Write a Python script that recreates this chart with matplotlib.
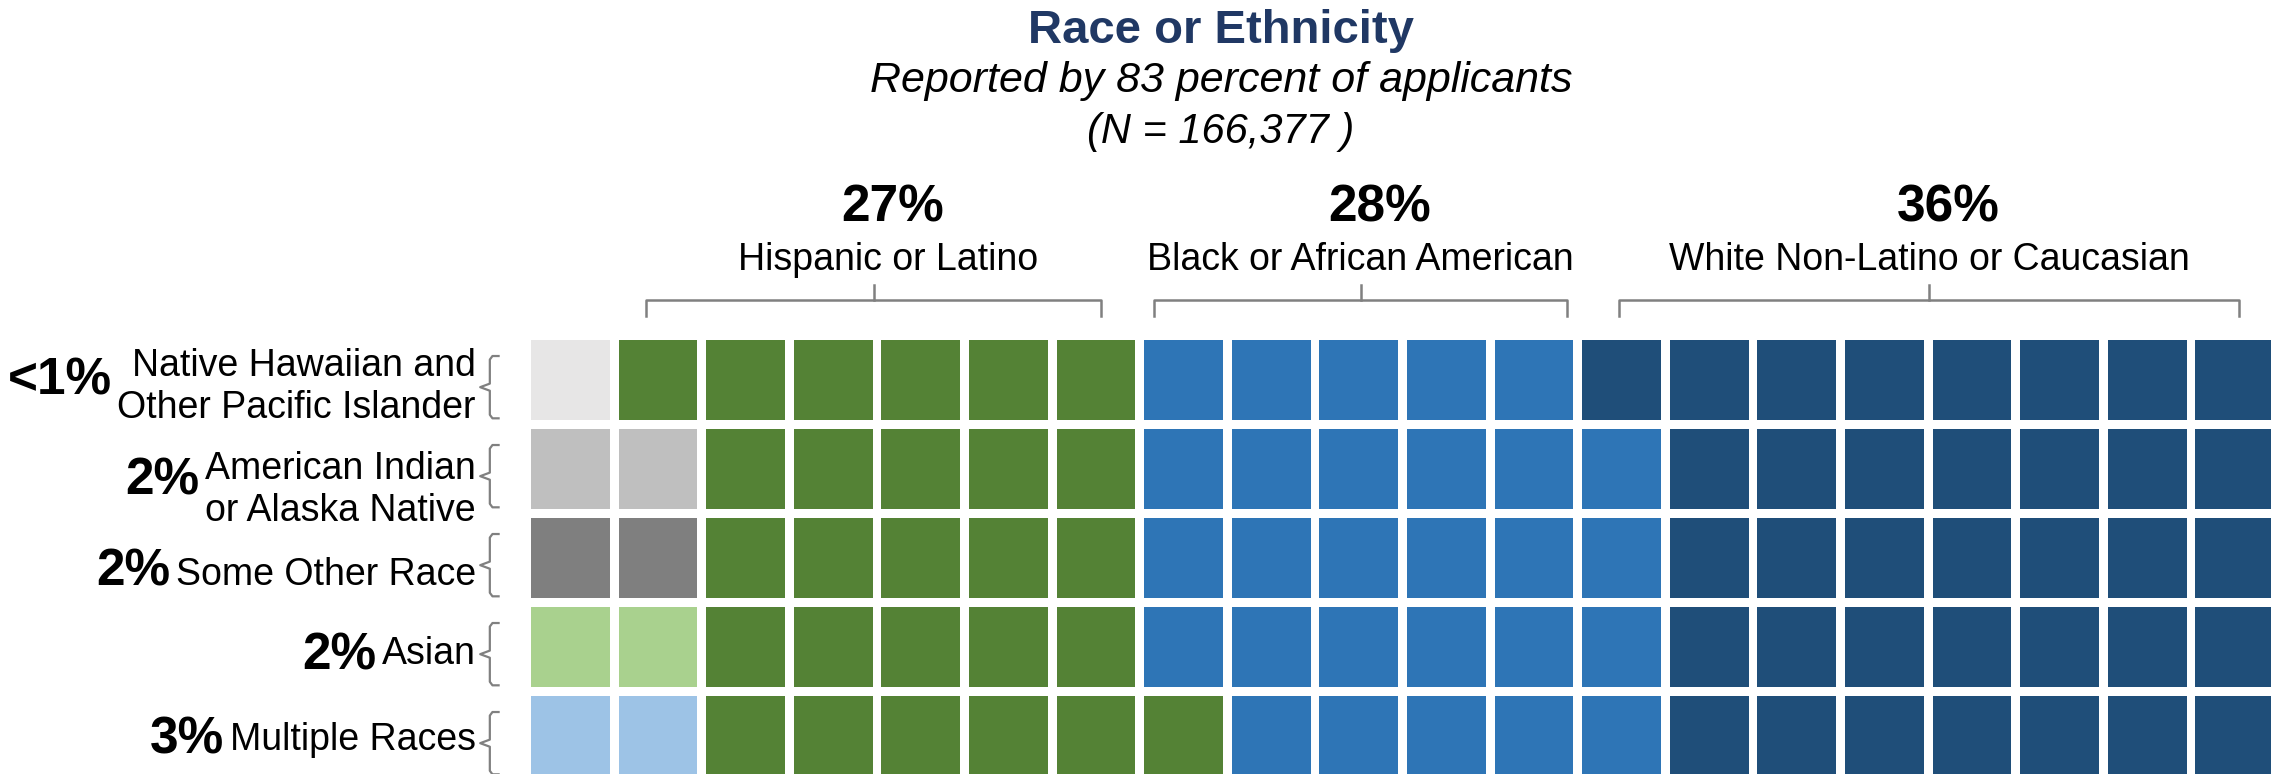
import matplotlib.pyplot as plt
from matplotlib.patches import Rectangle

plt.rcParams['font.family'] = ['Liberation Sans', 'DejaVu Sans']

# small groups, one per row (left side of the waffle)
row_labels = ['Native Hawaiian and\nOther Pacific Islander', 'American Indian\nor Alaska Native',
              'Some Other Race', 'Asian', 'Multiple Races']
row_pcts = ['<1%', '2%', '2%', '2%', '3%']
row_colors = ['#E7E6E6', '#BFBFBF', '#7F7F7F', '#A9D18E', '#9DC3E6']
row_counts = [1, 2, 2, 2, 2]

# large groups, spread across the rows
group_names = ['Hispanic or Latino', 'Black or African American', 'White Non-Latino or Caucasian']
group_pcts = ['27%', '28%', '36%']
group_colors = ['#548235', '#2E75B6', '#1F4E79']
hispanic_counts = [6, 5, 5, 5, 6]
black_counts = [5, 6, 6, 6, 5]
white_counts = [8, 7, 7, 7, 7]

W, H = 2271, 774
fig = plt.figure(figsize=(W / 100, H / 100), dpi=100)

# grid axes: one unit = one cell pitch (87.6 px wide, 89 px tall)
top_px, left_px = 340, 531
ax = fig.add_axes([left_px / W, 1 - (top_px + 5 * 89) / H, 20 * 87.6 / W, 5 * 89 / H])
ax.set_xlim(0, 20)
ax.set_ylim(5, 0)
ax.axis('off')

cell = 0.9
for r in range(5):
    seq = ([row_colors[r]] * row_counts[r] + [group_colors[0]] * hispanic_counts[r]
           + [group_colors[1]] * black_counts[r] + [group_colors[2]] * white_counts[r])
    for c, col in enumerate(seq):
        ax.add_patch(Rectangle((c, r), cell, cell, facecolor=col, edgecolor='none'))

gray = '#808080'

# row labels with braces
label_y = [0.53, 0.69, 0.64, 0.53, 0.49]
pct_y = [0.46, 0.58, 0.61, 0.55, 0.49]
for r in range(5):
    t = ax.text(-0.63, r + label_y[r], row_labels[r], ha='right', va='center',
                fontsize=27, linespacing=1.22, clip_on=False)
    ax.annotate(row_pcts[r], xy=(0, r + pct_y[r]), xycoords=(t, 'data'),
                xytext=(-4, 0), textcoords='offset points', ha='right', va='center',
                fontsize=37, weight='bold', annotation_clip=False)
    y0, y1, ym = r + 0.18, r + 0.88, r + 0.53
    vx, hx, tx = -0.47, -0.37, -0.58
    ax.plot([hx, vx + 0.03, vx, vx, tx, vx, vx, vx + 0.03, hx],
            [y0, y0, y0 + 0.04, ym - 0.04, ym, ym + 0.04, y1 - 0.04, y1, y1],
            color=gray, lw=1.6, clip_on=False)

# group brackets and labels above the grid
brackets = [(1.31, 6.51), (7.11, 11.83), (12.42, 19.50)]
name_dx = [0.17, 0.0, 0.0]
for (a, b), name, pct, dx in zip(brackets, group_names, group_pcts, name_dx):
    m = (a + b) / 2
    ax.plot([a, a, b, b], [-0.27, -0.45, -0.45, -0.27], color=gray, lw=1.8, clip_on=False)
    ax.plot([m, m], [-0.45, -0.62], color=gray, lw=1.8, clip_on=False)
    ax.text(m + 0.22, -1.326, pct, ha='center', va='baseline', fontsize=37,
            weight='bold', clip_on=False)
    ax.text(m + dx, -0.787, name, ha='center', va='baseline', fontsize=27, clip_on=False)

cx = 1221 / W
fig.text(cx, 1 - 43 / H, 'Race or Ethnicity', ha='center', va='baseline',
         fontsize=34, weight='bold', color='#203864')
fig.text(cx, 1 - 92 / H, 'Reported by 83 percent of applicants', ha='center',
         va='baseline', fontsize=31, style='italic')
fig.text(cx, 1 - 143 / H, '(N = 166,377 )', ha='center', va='baseline',
         fontsize=30, style='italic')

fig.savefig('out.png', dpi=100)
